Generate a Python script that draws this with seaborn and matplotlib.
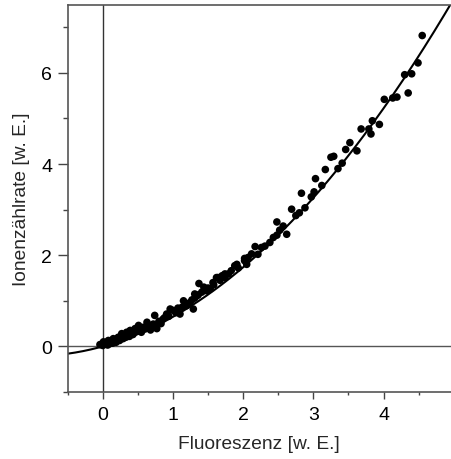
import numpy as np
import pandas as pd
import matplotlib
matplotlib.use("Agg")
import matplotlib.pyplot as plt
from matplotlib.ticker import MultipleLocator
import seaborn as sns

sns.set_theme(style="white")
plt.rcParams['font.family'] = ['Liberation Sans', 'DejaVu Sans']

# Measured points (Fluoreszenz, Ionenzählrate)
fluor = [4.55, 4.49, 4.40, 4.30, 4.35, 4.19, 4.13, 4.01, 3.84, 3.94, 3.79, 3.68, 3.82,
         3.52, 3.46, 3.62, 3.29, 3.25, 3.41, 3.35, 3.17, 3.03, 3.12, 3.01, 2.83, 2.97,
         2.88, 2.69, 2.80, 2.75, 2.48, 2.57, 2.52, 2.62, 2.48, 2.43, 2.38, 2.31, 2.26,
         2.17, 2.21, 2.12, 2.07, 2.02, 2.02, 2.05, 1.93, 1.88, 1.91, 1.83, 1.79, 1.74,
         1.74, 1.64, 1.62, 1.67, 1.57, 1.37, 1.53, 1.48, 1.46, 1.41, 1.31, 1.34, 1.31,
         1.15, 1.19, 1.19, 1.29, 1.10, 1.00, 0.96, 0.91, 0.86, 0.74, 0.77, 0.70, 0.63,
         0.58, 0.51, 0.46, 0.39, 0.34, 0.27, 0.22, 0.15, 0.08, 0.01, -0.04,
         0.00, 0.03, 0.05, 0.07, 0.10, 0.12, 0.14, 0.17, 0.19, 0.21, 0.24, 0.26, 0.29,
         0.31, 0.33, 0.36, 0.38, 0.41, 0.43, 0.48, 0.53, 0.55, 0.60, 0.65, 0.68, 0.72,
         0.80, 0.83, 0.88, 0.94, 1.04, 1.07, 1.13, 1.24, 1.27, 1.36, 1.44, 1.50, 1.58,
         1.70]
ionen = [6.82, 6.22, 5.98, 5.96, 5.56, 5.47, 5.45, 5.42, 4.95, 4.87, 4.77, 4.77, 4.66,
         4.47, 4.32, 4.29, 4.17, 4.15, 4.02, 3.90, 3.88, 3.68, 3.53, 3.39, 3.36, 3.28,
         3.04, 3.01, 2.93, 2.87, 2.73, 2.64, 2.55, 2.46, 2.44, 2.39, 2.28, 2.20, 2.17,
         2.19, 2.02, 2.03, 1.95, 1.93, 1.88, 1.80, 1.72, 1.77, 1.80, 1.66, 1.59, 1.59,
         1.51, 1.51, 1.51, 1.45, 1.40, 1.38, 1.26, 1.22, 1.24, 1.19, 1.15, 1.11, 1.06,
         1.00, 0.93, 0.89, 0.82, 0.71, 0.79, 0.82, 0.71, 0.60, 0.68, 0.39, 0.46, 0.53,
         0.42, 0.46, 0.39, 0.35, 0.31, 0.28, 0.20, 0.17, 0.13, 0.10, 0.04,
         0.02, 0.05, 0.08, 0.03, 0.06, 0.10, 0.07, 0.12, 0.09, 0.15, 0.13, 0.19, 0.17,
         0.23, 0.20, 0.26, 0.22, 0.29, 0.26, 0.33, 0.36, 0.31, 0.38, 0.40, 0.36, 0.49,
         0.55, 0.50, 0.63, 0.66, 0.74, 0.84, 0.86, 0.96, 1.02, 1.13, 1.30, 1.28, 1.35,
         1.55]

# Quadratic fit coefficients (y = a*x + b*x^2)
fit_a = 0.43
fit_b = 0.219

x_ticks = [0, 1, 2, 3, 4]
y_ticks = [0, 2, 4, 6]

df = pd.DataFrame({"Fluoreszenz": fluor, "Ionen": ionen})
xf = np.linspace(-0.5, 4.96, 300)
fit_df = pd.DataFrame({"x": xf, "y": fit_a * xf + fit_b * xf ** 2})

fig = plt.figure(figsize=(4.51, 4.60), dpi=100)
ax = fig.add_axes([0.150, 0.1457, 0.850, 0.8423])

ax.axhline(0, color="#555555", lw=1.0, zorder=1)
ax.axvline(0, color="#333333", lw=1.0, zorder=1)

sns.lineplot(data=fit_df, x="x", y="y", color="black", lw=1.5, ax=ax, zorder=2)
sns.scatterplot(data=df, x="Fluoreszenz", y="Ionen", color="black", s=30,
                edgecolor="none", ax=ax, zorder=3)

ax.set_xlim(-0.5, 4.96)
ax.set_ylim(-1, 7.5)
ax.set_xticks(x_ticks)
ax.set_yticks(y_ticks)
ax.xaxis.set_minor_locator(MultipleLocator(0.5))
ax.yaxis.set_minor_locator(MultipleLocator(1))
ax.tick_params(axis="both", which="major", direction="out", colors="#444444",
               labelcolor="black", labelsize=14, width=1.0)
ax.tick_params(axis="x", which="major", length=5, pad=5)
ax.tick_params(axis="y", which="major", length=7, pad=4)
ax.tick_params(axis="x", which="minor", length=2.5, width=1.0, colors="#444444")
ax.tick_params(axis="y", which="minor", length=3.5, width=1.0, colors="#444444")
ax.xaxis.set_ticks_position("bottom")
ax.yaxis.set_ticks_position("left")

for side in ["left", "top", "bottom"]:
    ax.spines[side].set_color("#555555")
    ax.spines[side].set_linewidth(1.2)
ax.spines["right"].set_visible(False)

ax.set_xlabel("Fluoreszenz [w. E.]", fontsize=13.8, labelpad=9)
ax.set_ylabel("Ionenzählrate [w. E.]", fontsize=13.8, labelpad=8)

fig.savefig("out.png", dpi=100)
